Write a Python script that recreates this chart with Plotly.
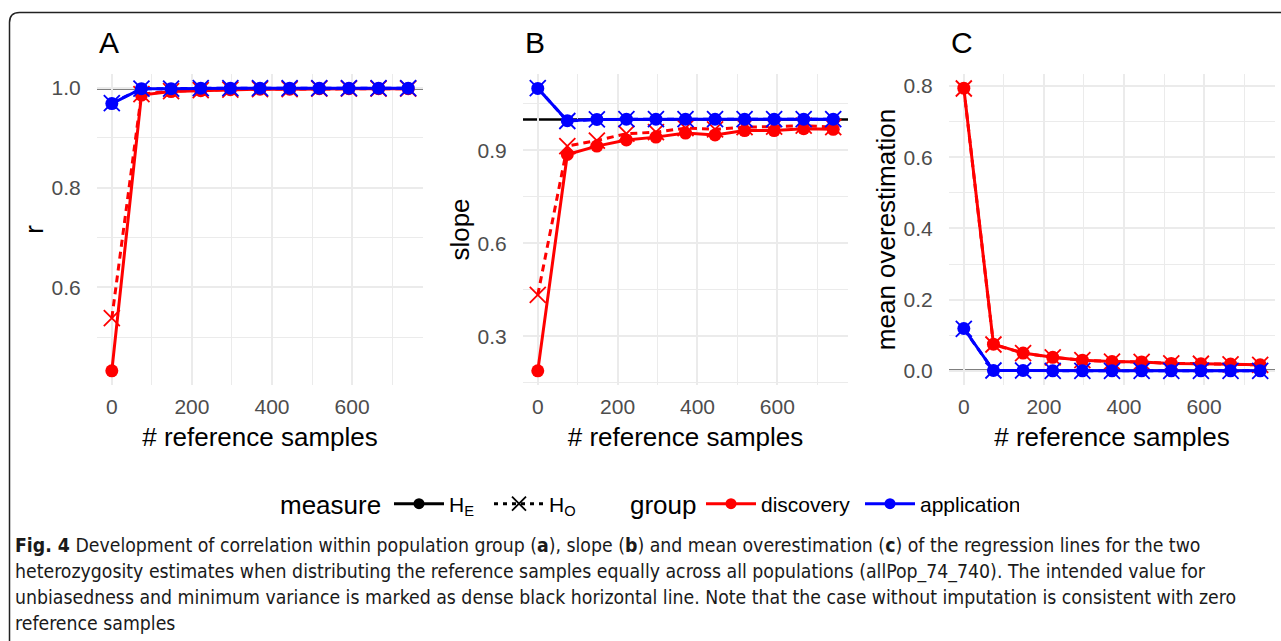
import plotly.graph_objects as go

W, H = 1281, 641

# ---------------- data ----------------
ref_samples = [0, 74, 148, 222, 296, 370, 444, 518, 592, 666, 740]

# Panel A: correlation r
r_discovery_HE = [0.432, 0.986, 0.993, 0.995, 0.997, 0.998, 0.998, 0.999, 0.999, 0.999, 0.999]
r_discovery_HO = [0.538, 0.988, 0.994, 0.996, 0.997, 0.998, 0.998, 0.999, 0.999, 0.999, 0.999]
r_application_HE = [0.969, 0.999, 0.999, 1.000, 1.000, 1.000, 1.000, 1.000, 1.000, 1.000, 1.000]
r_application_HO = [0.970, 0.999, 0.999, 1.000, 1.000, 1.000, 1.000, 1.000, 1.000, 1.000, 1.000]

# Panel B: slope
s_discovery_HE = [0.189, 0.887, 0.914, 0.934, 0.943, 0.956, 0.950, 0.964, 0.964, 0.970, 0.968]
s_discovery_HO = [0.434, 0.914, 0.932, 0.954, 0.959, 0.972, 0.968, 0.975, 0.977, 0.980, 0.975]
s_application_HE = [1.100, 0.996, 1.000, 1.001, 1.001, 1.001, 1.001, 1.001, 1.001, 1.001, 1.001]
s_application_HO = [1.101, 0.995, 1.000, 1.001, 1.001, 1.001, 1.001, 1.001, 1.001, 1.001, 1.001]

# Panel C: mean overestimation
m_discovery_HE = [0.794, 0.075, 0.050, 0.038, 0.030, 0.026, 0.025, 0.021, 0.020, 0.019, 0.017]
m_discovery_HO = [0.793, 0.074, 0.050, 0.038, 0.030, 0.026, 0.025, 0.021, 0.020, 0.018, 0.017]
m_application_HE = [0.119, 0.001, 0.001, 0.000, 0.000, 0.000, 0.000, 0.000, 0.000, 0.000, 0.000]
m_application_HO = [0.118, 0.001, 0.001, 0.000, 0.000, 0.000, 0.000, 0.000, 0.000, 0.000, 0.000]

panel_labels = ["A", "B", "C"]
y_titles = ["r", "slope", "mean overestimation"]
x_title = "# reference samples"
target_values = [1.0, 1.0, 0.0]
x_ticks = [0, 200, 400, 600]
y_ticks = [[0.6, 0.8, 1.0], [0.3, 0.6, 0.9], [0.0, 0.2, 0.4, 0.6, 0.8]]

group_names = ["discovery", "application"]
group_colors = {"discovery": "#FF0000", "application": "#0000FF"}
measure_names = ["H<sub>E</sub>", "H<sub>O</sub>"]
legend_titles = ["measure", "group"]

caption_lines = [
    "<b>Fig. 4</b> Development of correlation within population group (<b>a</b>), slope (<b>b</b>) and mean overestimation (<b>c</b>) of the regression lines for the two",
    "heterozygosity estimates when distributing the reference samples equally across all populations (allPop_74_740). The intended value for",
    "unbiasedness and minimum variance is marked as dense black horizontal line. Note that the case without imputation is consistent with zero",
    "reference samples",
]

panels = [
    {"discovery": (r_discovery_HE, r_discovery_HO), "application": (r_application_HE, r_application_HO)},
    {"discovery": (s_discovery_HE, s_discovery_HO), "application": (s_application_HE, s_application_HO)},
    {"discovery": (m_discovery_HE, m_discovery_HO), "application": (m_application_HE, m_application_HO)},
]

# ---------------- layout geometry (pixels) ----------------
px_left = [97, 523, 949]
px_right = [423, 848, 1275]
px_top, px_bottom = 74, 385

FONT = "Liberation Sans, Arial, sans-serif"
GRID = "#EBEBEB"
TICKCOL = "#4D4D4D"
LW = 3


def expand(vals, f=0.05):
    lo, hi = min(vals), max(vals)
    d = (hi - lo) * f
    return [lo - d, hi + d]


fig = go.Figure()

for i, pdata in enumerate(panels):
    xa = "x" if i == 0 else f"x{i+1}"
    ya = "y" if i == 0 else f"y{i+1}"
    for g in group_names:
        for k, mname in enumerate(measure_names):
            yv = pdata[g][k]
            if k == 0:
                marker = dict(symbol="circle", size=13, color=group_colors[g])
                line = dict(color=group_colors[g], width=LW)
            else:
                marker = dict(symbol="x-thin", size=16, color=group_colors[g],
                              line=dict(color=group_colors[g], width=1.8))
                line = dict(color=group_colors[g], width=LW, dash="7px,5px")
            fig.add_trace(go.Scatter(x=ref_samples, y=yv, mode="lines+markers",
                                     xaxis=xa, yaxis=ya, marker=marker, line=line,
                                     showlegend=False, name=f"{g} {mname}",
                                     hoverinfo="x+y+name"))

# legend-only traces
fig.add_trace(go.Scatter(x=[None], y=[None], mode="lines+markers", name=measure_names[0],
                         line=dict(color="black", width=LW),
                         marker=dict(symbol="circle", size=11, color="black"), legend="legend"))
fig.add_trace(go.Scatter(x=[None], y=[None], mode="lines+markers", name=measure_names[1],
                         line=dict(color="black", width=LW, dash="4px,5px"),
                         marker=dict(symbol="x-thin", size=14, color="black",
                                     line=dict(color="black", width=1.8)), legend="legend"))
for g in group_names:
    fig.add_trace(go.Scatter(x=[None], y=[None], mode="lines+markers", name=g,
                             line=dict(color=group_colors[g], width=LW),
                             marker=dict(symbol="circle", size=11, color=group_colors[g]),
                             legend="legend2"))

layout = dict(
    width=W, height=H, autosize=False,
    margin=dict(l=0, r=0, t=0, b=0),
    paper_bgcolor="white", plot_bgcolor="white",
    font=dict(family=FONT, color="black"),
    hovermode="closest",
)

ydom = [(H - px_bottom) / H, (H - px_top) / H]
annotations = []
shapes = []
for i in range(3):
    sfx = "" if i == 0 else str(i + 1)
    allv = []
    for g in group_names:
        for k in range(2):
            allv += panels[i][g][k]
    yr = expand(allv)
    xr = expand(ref_samples)
    major_y = y_ticks[i][1] - y_ticks[i][0]
    layout["xaxis" + sfx] = dict(
        domain=[px_left[i] / W, px_right[i] / W], anchor="y" + sfx, range=xr,
        tickmode="array", tickvals=x_ticks, showline=False, zeroline=False,
        showgrid=True, gridcolor=GRID, gridwidth=1.8,
        minor=dict(dtick=100, tick0=0, showgrid=True, gridcolor=GRID, gridwidth=1.0),
        ticks="outside", ticklen=3, tickcolor="rgba(0,0,0,0)",
        tickfont=dict(size=21, color=TICKCOL, family=FONT),
        title=dict(text=x_title, font=dict(size=26, color="black", family=FONT), standoff=10),
        fixedrange=True,
    )
    layout["yaxis" + sfx] = dict(
        domain=ydom, anchor="x" + sfx, range=yr,
        tickmode="array", tickvals=y_ticks[i], ticktext=[f"{v:.1f}" for v in y_ticks[i]],
        showline=False, zeroline=False,
        showgrid=True, gridcolor=GRID, gridwidth=1.8,
        minor=dict(dtick=major_y / 2, tick0=y_ticks[i][0] - major_y / 2, showgrid=True,
                   gridcolor=GRID, gridwidth=1.0),
        ticks="outside", ticklen=11, tickcolor="rgba(0,0,0,0)",
        tickfont=dict(size=21, color=TICKCOL, family=FONT),
        title=dict(text=y_titles[i], font=dict(size=26, color="black", family=FONT), standoff=0),
        fixedrange=True,
    )
    shapes.append(dict(type="line", xref=f"x{sfx} domain", yref="y" + sfx, x0=0, x1=1,
                       y0=target_values[i], y1=target_values[i],
                       line=dict(color="black", width=2.5), layer="below"))
    annotations.append(dict(text=panel_labels[i], xref="paper", yref="paper",
                            x=px_left[i] / W, y=(H - 43) / H, xanchor="left", yanchor="middle",
                            showarrow=False, font=dict(size=30, color="black", family=FONT)))

# legend titles
for txt, xl in zip(legend_titles, [278, 628]):
    annotations.append(dict(text=txt, xref="paper", yref="paper", x=xl / W, y=(H - 505) / H,
                            xanchor="left", yanchor="middle", showarrow=False,
                            font=dict(size=26, color="black", family=FONT)))

# outer rounded frame
fx, fy, rr = 9.5, 12.5, 10
shapes.append(dict(type="path", xref="paper", yref="paper", layer="above",
                   path=(f"M {fx / W:.5f},-0.1 L {fx / W:.5f},{(H - fy - rr) / H:.5f} "
                         f"Q {fx / W:.5f},{(H - fy) / H:.5f} {(fx + rr) / W:.5f},{(H - fy) / H:.5f} "
                         f"L 1.1,{(H - fy) / H:.5f}"),
                   line=dict(color="#222222", width=1.5)))

caption_y = [545, 571, 597, 623]
for line_text, yc in zip(caption_lines, caption_y):
    annotations.append(dict(text=line_text, xref="paper", yref="paper", x=13 / W, y=(H - yc) / H,
                            xanchor="left", yanchor="middle", showarrow=False, align="left",
                            font=dict(size=19.3, color="#1a1a1a",
                                      family="Liberation Sans Narrow, DejaVu Sans Condensed, Liberation Sans")))

layout["annotations"] = annotations
layout["shapes"] = shapes
layout["legend"] = dict(orientation="h", x=389 / W, y=(H - 504) / H, xanchor="left", yanchor="middle",
                        font=dict(size=21, family=FONT), itemwidth=50,
                        entrywidth=35, entrywidthmode="pixels", bgcolor="rgba(0,0,0,0)")
layout["legend2"] = dict(orientation="h", x=701 / W, y=(H - 504) / H, xanchor="left", yanchor="middle",
                         font=dict(size=21, family=FONT), itemwidth=50,
                         entrywidth=94, entrywidthmode="pixels", bgcolor="rgba(0,0,0,0)")

fig.update_layout(**layout)

fig.write_html("out.html", config={"displayModeBar": False},
               post_script="document.body.style.margin='0';document.body.style.overflow='hidden';")
